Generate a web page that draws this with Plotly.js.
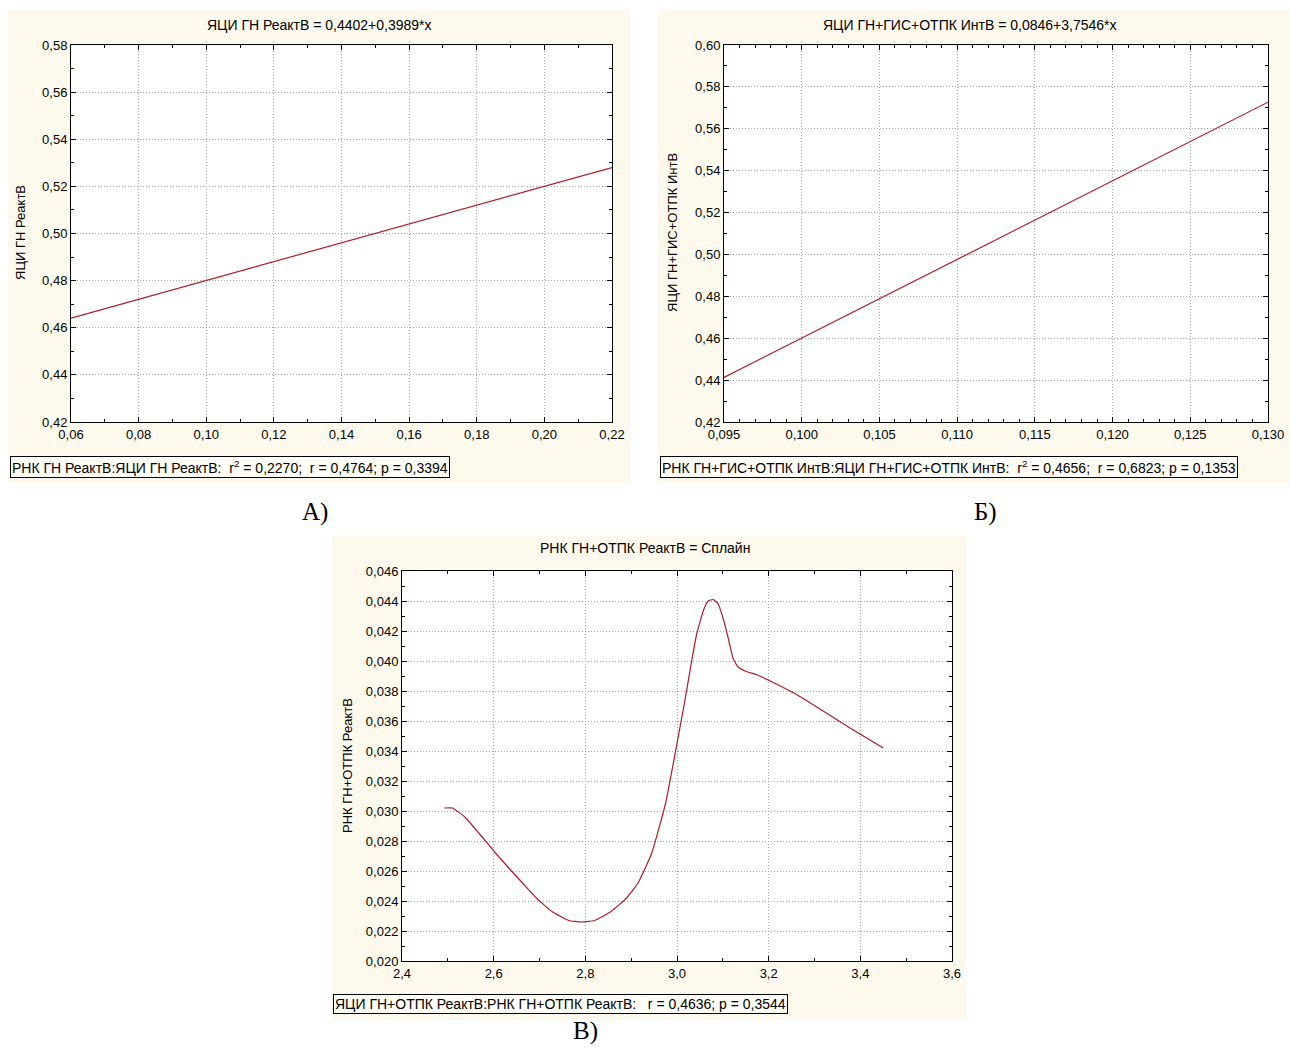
<!DOCTYPE html>
<html><head><meta charset="utf-8">
<script src="https://cdn.plot.ly/plotly-3.0.1.min.js"></script>
<style>html,body{margin:0;padding:0;background:#fff}#chart{width:1290px;height:1048px}</style>
</head><body><div id="chart"></div>
<script>
// ---------- data ----------
const aX = [0.06, 0.22];
const aY = [0.4641, 0.5280];
const bX = [0.095, 0.130];
const bY = [0.4413, 0.5727];
const cX = [2.492, 2.51, 2.537, 2.574, 2.604, 2.633, 2.663, 2.693, 2.727, 2.764, 2.791, 2.82, 2.856, 2.89, 2.915, 2.945, 2.975, 3.0, 3.018, 3.032, 3.043, 3.058, 3.068, 3.079, 3.09, 3.101, 3.112, 3.122, 3.133, 3.151, 3.173, 3.201, 3.259, 3.317, 3.374, 3.45];
const cY = [0.0302, 0.0302, 0.0296, 0.0283, 0.0272, 0.0262, 0.0252, 0.0242, 0.0233, 0.0227, 0.0226, 0.0227, 0.0233, 0.0242, 0.0252, 0.0272, 0.0305, 0.0345, 0.0375, 0.0400, 0.0418, 0.0434, 0.0440, 0.0441, 0.0438, 0.0428, 0.0415, 0.0402, 0.0396, 0.0393, 0.0391, 0.0387, 0.0378, 0.0367, 0.0356, 0.0342];

const titleA = 'ЯЦИ ГН РеактВ = 0,4402+0,3989*x';
const titleB = 'ЯЦИ ГН+ГИС+ОТПК ИнтВ = 0,0846+3,7546*x';
const titleC = 'РНК ГН+ОТПК РеактВ = Сплайн';
const yTitleA = 'ЯЦИ ГН РеактВ';
const yTitleB = 'ЯЦИ ГН+ГИС+ОТПК ИнтВ';
const yTitleC = 'РНК ГН+ОТПК РеактВ';
const legA = 'РНК ГН РеактВ:ЯЦИ ГН РеактВ:  r<sup>2</sup> = 0,2270;  r = 0,4764; p = 0,3394';
const legB = 'РНК ГН+ГИС+ОТПК ИнтВ:ЯЦИ ГН+ГИС+ОТПК ИнтВ:  r<sup>2</sup> = 0,4656;  r = 0,6823; p = 0,1353';
const legC = 'ЯЦИ ГН+ОТПК РеактВ:РНК ГН+ОТПК РеактВ:   r = 0,4636; p = 0,3544';
const panelLabels = ['А)', 'Б)', 'В)'];

// ---------- layout helpers ----------
const W = 1290, H = 1048;
const fx = p => p / W;
const fy = p => 1 - p / H;
const FONT = 'Liberation Sans, Arial, sans-serif';
const SERIF = 'Liberation Serif, Times New Roman, serif';
const CREAM = '#fdf9ec';

// pixel boxes [left, top, right, bottom]
const P = {
  A: {cream: [8, 10, 630, 483], plot: [71, 45, 612, 422]},
  B: {cream: [658, 10, 1290, 483], plot: [724, 45, 1268, 422]},
  C: {cream: [332, 536, 966, 1020], plot: [402, 571, 952, 961]}
};

function axis(range, dtick, minor, fmt, dom, anchor) {
  return {
    range: range, dtick: dtick, tick0: range[0], tickformat: fmt,
    domain: dom, anchor: anchor, ticklabeloverflow: 'allow',
    showline: true, linecolor: '#000', linewidth: 1, mirror: 'ticks',
    ticks: 'inside', ticklen: 5, tickcolor: '#000', tickwidth: 1,
    showgrid: true, gridcolor: '#a8a8a8', griddash: '1px,2px', gridwidth: 1,
    zeroline: false, fixedrange: true,
    tickfont: {family: FONT, size: 13, color: '#000'},
    minor: {dtick: minor, tick0: range[0], ticks: 'inside', ticklen: 3, tickcolor: '#000', showgrid: false}
  };
}
const xd = b => [fx(b[0]), fx(b[2])];
const yd = b => [fy(b[3]), fy(b[1])];

const lineStyle = {color: '#b01c26', width: 1.2};
const traces = [
  {x: aX, y: aY, xaxis: 'x', yaxis: 'y', mode: 'lines', line: lineStyle, hoverinfo: 'skip'},
  {x: bX, y: bY, xaxis: 'x2', yaxis: 'y2', mode: 'lines', line: lineStyle, hoverinfo: 'skip'},
  {x: cX, y: cY, xaxis: 'x3', yaxis: 'y3', mode: 'lines', line: Object.assign({shape: 'spline', smoothing: 0.4}, lineStyle), hoverinfo: 'skip'}
];

const shapes = [];
['A', 'B', 'C'].forEach(k => {
  const c = P[k].cream, p = P[k].plot;
  shapes.push({type: 'rect', xref: 'paper', yref: 'paper', x0: fx(c[0]), x1: fx(c[2]), y0: fy(c[3]), y1: fy(c[1]), fillcolor: CREAM, line: {width: 0}, layer: 'below'});
  shapes.push({type: 'rect', xref: 'paper', yref: 'paper', x0: fx(p[0]), x1: fx(p[2]), y0: fy(p[3]), y1: fy(p[1]), fillcolor: '#fff', line: {width: 0}, layer: 'below'});
});

function ann(text, x, y, opts) {
  return Object.assign({text: text, x: fx(x), y: fy(y), xref: 'paper', yref: 'paper', showarrow: false,
    font: {family: FONT, size: 14, color: '#000'}, xanchor: 'center', yanchor: 'middle'}, opts || {});
}
const legBox = {xanchor: 'left', bordercolor: '#000', borderwidth: 1, borderpad: 1, bgcolor: '#fffdf6'};
const yt = {textangle: -90, font: {family: FONT, size: 13, color: '#000'}};
const pl = {font: {family: SERIF, size: 25, color: '#000'}};
const annotations = [
  ann(titleA, 319, 25),
  ann(titleB, 970, 25),
  ann(titleC, 645, 548),
  ann(yTitleA, 21, 233, yt),
  ann(yTitleB, 673, 233, yt),
  ann(yTitleC, 347, 766, yt),
  ann(legA, 10, 467, legBox),
  ann(legB, 660, 467, legBox),
  ann(legC, 333, 1004, legBox),
  ann(panelLabels[0], 315, 512, pl),
  ann(panelLabels[1], 985, 512, pl),
  ann(panelLabels[2], 585, 1031, pl)
];

const layout = {
  width: W, height: H, autosize: false,
  margin: {l: 0, r: 0, t: 0, b: 0, pad: 0},
  paper_bgcolor: '#fff', plot_bgcolor: 'rgba(0,0,0,0)',
  separators: ', ',
  showlegend: false,
  xaxis: axis([0.06, 0.2200001], 0.02, 0.01, '.2f', xd(P.A.plot), 'y'),
  yaxis: axis([0.42, 0.5800001], 0.02, 0.01, '.2f', yd(P.A.plot), 'x'),
  xaxis2: axis([0.095, 0.1300001], 0.005, 0.001, '.3f', xd(P.B.plot), 'y2'),
  yaxis2: axis([0.42, 0.6000001], 0.02, 0.01, '.2f', yd(P.B.plot), 'x2'),
  xaxis3: axis([2.4, 3.6000001], 0.2, 0.1, '.1f', xd(P.C.plot), 'y3'),
  yaxis3: axis([0.020, 0.0460001], 0.002, 0.001, '.3f', yd(P.C.plot), 'x3'),
  shapes: shapes,
  annotations: annotations
};

Plotly.newPlot('chart', traces, layout, {staticPlot: true, displayModeBar: false});
</script>
</body></html>
